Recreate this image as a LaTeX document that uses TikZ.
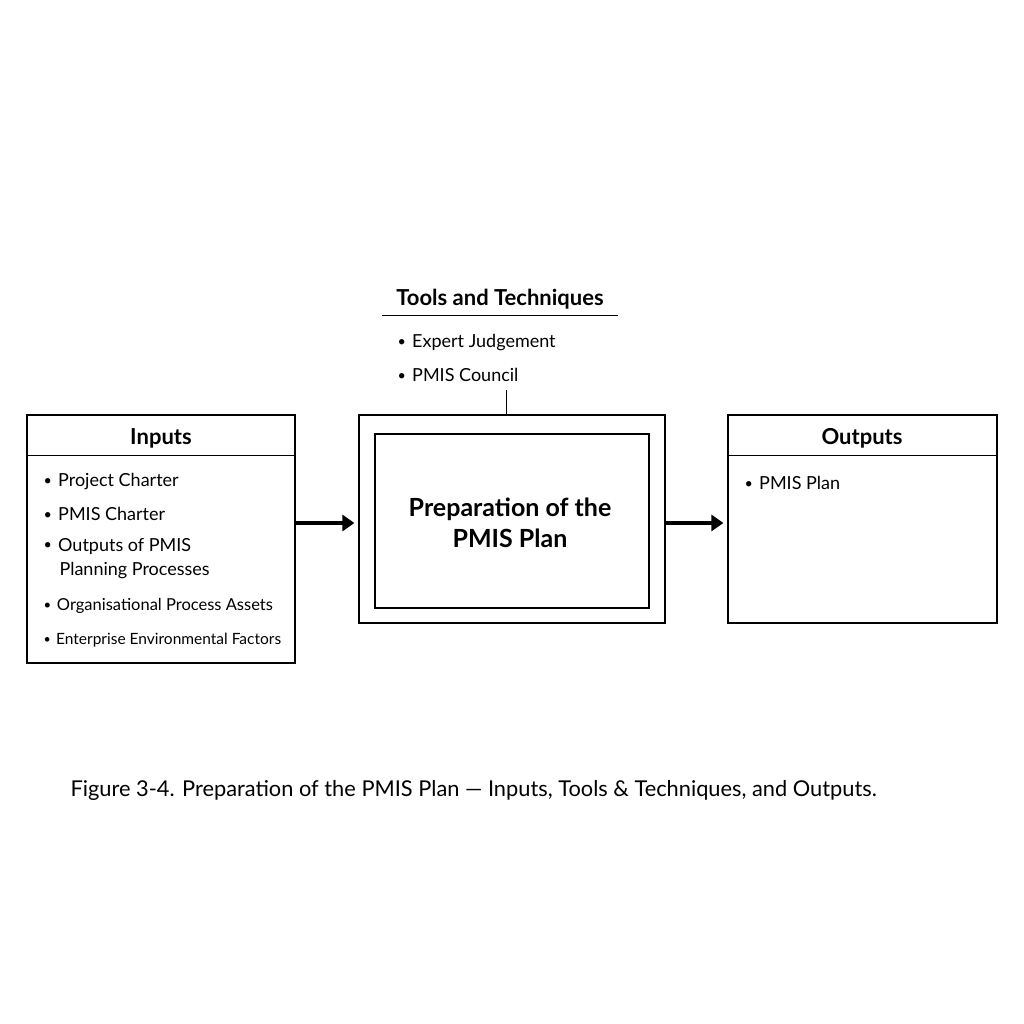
\documentclass[tikz,border=0pt]{standalone}
\usepackage{fontspec}
\setmainfont{Lato}
\usetikzlibrary{arrows.meta}
\newcommand{\bul}{\raisebox{0.15ex}{\scalebox{0.8}{•}}\hspace{0.35em}}
\begin{document}
\begin{tikzpicture}[x=1pt,y=-1pt,
  box/.style={draw,line width=1.2pt},
  txt/.style={anchor=west,font=\fontsize{18}{20}\selectfont},
  head/.style={font=\fontsize{22}{24}\selectfont\bfseries},
  arr/.style={line width=4pt,-{Triangle[length=12pt,width=16pt]}}]
\useasboundingbox (0,0) rectangle (1024,1024);
% Inputs
\node[box,minimum width=268pt,minimum height=248pt,inner sep=0pt] (in) at (161,539) {};
\draw[line width=1pt] (27,455) -- (295,455);
\node[head] (inh) at (161,438) {Inputs};
\node[txt] (i1) at (40,482) {\bul Project Charter};
\node[txt] (i2) at (40,514) {\bul PMIS Charter};
\node[txt] (i3) at (40,546) {\bul Outputs of PMIS};
\node[txt] (i3b) at (54,571) {\hspace{2pt}Planning Processes};
\node[txt,font=\fontsize{16.5}{18}\selectfont] (i4) at (40,606) {\bul Organisational Process Assets};
\node[txt,font=\fontsize{15.5}{18}\selectfont] (i5) at (40,640) {\bul Enterprise Environmental Factors};
% Process
\node[box,minimum width=306pt,minimum height=208pt,inner sep=0pt] (po) at (512,519) {};
\node[box,minimum width=274pt,minimum height=174pt,inner sep=0pt] (pi) at (512,521) {};
\node[font=\fontsize{25}{31}\selectfont\bfseries,align=center] (pt) at (510,523) {Preparation of the\\PMIS Plan};
% Outputs
\node[box,minimum width=269pt,minimum height=208pt,inner sep=0pt] (out) at (862.5,519) {};
\draw[line width=1pt] (728,455) -- (997,455);
\node[head] (outh) at (862,438) {Outputs};
\node[txt] (o1) at (741,483) {\bul PMIS Plan};
% Tools
\node[head] (th) at (500,299) {Tools and Techniques};
\draw[line width=1pt] (382,315) -- (618,315);
\node[txt] (t1) at (394,343) {\bul Expert Judgement};
\node[txt] (t2) at (394,375) {\bul PMIS Council};
\coordinate (tc) at (506,390);
\draw[line width=0.8pt] (tc) -- (po.north -| tc);
% arrows
\draw[arr,shorten >=4pt] (in.east |- 0,523) -- (po.west |- 0,523);
\draw[arr,shorten >=4pt] (po.east |- 0,523) -- (out.west |- 0,523);
% caption
\node[anchor=west,font=\fontsize{21.8}{26}\selectfont] (cap) at (67,790) {Figure 3-4. Preparation of the PMIS Plan — Inputs, Tools \& Techniques, and Outputs.};
\end{tikzpicture}
\end{document}
